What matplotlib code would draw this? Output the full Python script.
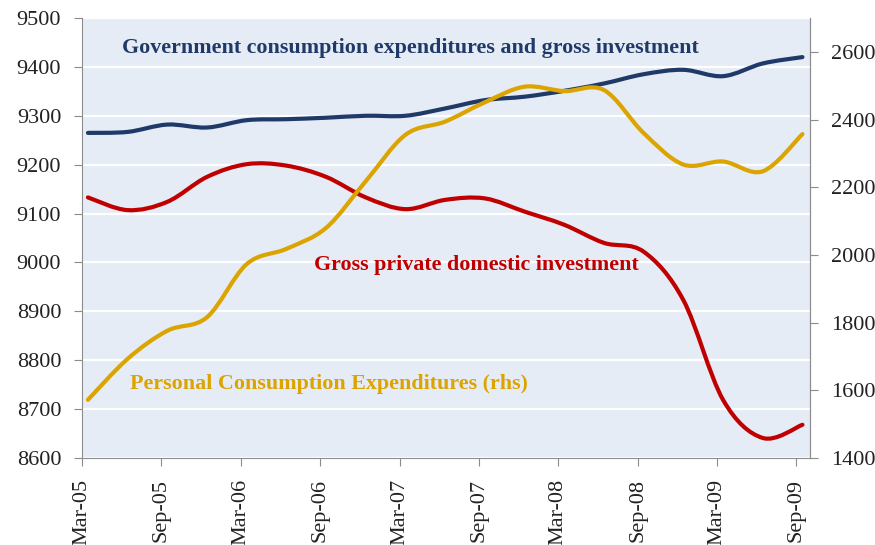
import numpy as np
import matplotlib
matplotlib.use("Agg")
import matplotlib.pyplot as plt
from matplotlib.path import Path
from matplotlib.patches import PathPatch

# quarterly data, Mar-05 .. Sep-09
quarters = ["Mar-05", "Jun-05", "Sep-05", "Dec-05", "Mar-06", "Jun-06", "Sep-06",
            "Dec-06", "Mar-07", "Jun-07", "Sep-07", "Dec-07", "Mar-08", "Jun-08",
            "Sep-08", "Dec-08", "Mar-09", "Jun-09", "Sep-09"]
government = [9265, 9267, 9282, 9276, 9291, 9293, 9296, 9300, 9300, 9315,
              9332, 9339, 9351, 9366, 9385, 9394, 9381, 9407, 9420]
private_inv = [9133, 9107, 9124, 9175, 9201, 9198, 9175, 9133, 9109, 9128,
               9131, 9104, 9077, 9040, 9022, 8923, 8719, 8641, 8668]
consumption = [1572, 1693, 1776, 1816, 1973, 2018, 2080, 2218, 2355, 2394,
               2451, 2497, 2484, 2487, 2360, 2267, 2276, 2247, 2357]
tick_labels = quarters[::2]

NAVY = "#1F3A68"
RED = "#C00000"
GOLD = "#DCA400"
BG = "#E6ECF5"
GREY = "#8C8C8C"

plt.rcParams["font.family"] = ["Liberation Serif", "DejaVu Serif"]


def smooth_line(ax, xs, ys, color, lw=3.0):
    # Excel-like smoothed line: cubic bezier through every point
    pts = np.column_stack([xs, ys]).astype(float)
    n = len(pts)
    verts = [pts[0]]
    codes = [Path.MOVETO]
    for i in range(n - 1):
        p0 = pts[i - 1] if i > 0 else pts[i]
        p1 = pts[i]
        p2 = pts[i + 1]
        p3 = pts[i + 2] if i + 2 < n else pts[i + 1]
        c1 = p1 + (p2 - p0) / 6.0
        c2 = p2 - (p3 - p1) / 6.0
        verts += [c1, c2, p2]
        codes += [Path.CURVE4] * 3
    patch = PathPatch(Path(verts, codes), facecolor="none", edgecolor=color,
                      lw=lw, capstyle="round", joinstyle="round", zorder=3)
    ax.add_patch(patch)


fig = plt.figure(figsize=(8.75, 5.45), dpi=100)
ax = fig.add_axes([0.0937, 0.1596, 0.832, 0.8074])
ax2 = ax.twinx()

x = np.arange(len(quarters)) + 0.15

ax.set_facecolor(BG)
ax.set_xlim(0, 18.34)
ax.set_ylim(8600, 9500)
ax.set_yticks(np.arange(8600, 9501, 100))
ax.grid(axis="y", color="white", lw=1.6)
ax.set_axisbelow(True)

smooth_line(ax, x, government, NAVY)
smooth_line(ax, x, private_inv, RED)

ax2.set_ylim(1400, 2700)
ax2.set_yticks(np.arange(1400, 2601, 200))
smooth_line(ax2, x, consumption, GOLD)

ax.set_xticks(np.arange(0, 19, 2))
ax.set_xticklabels(tick_labels, rotation=90)

for a in (ax, ax2):
    a.spines["top"].set_visible(False)
    for s in ("left", "right", "bottom"):
        a.spines[s].set_color(GREY)
    a.tick_params(colors=GREY, labelcolor="#222222", labelsize=16,
                  length=6, direction="out", pad=9)
ax.tick_params(axis="x", pad=9)
ax2.spines["left"].set_visible(False)
ax2.spines["bottom"].set_visible(False)

tfont = dict(fontsize=15.8, fontweight="bold", transform=ax.transData)
ax.text(1.0, 9439, "Government consumption expenditures and gross investment",
        color=NAVY, va="center", ha="left", **tfont)
ax.text(5.85, 8995, "Gross private domestic investment",
        color=RED, va="center", ha="left", **tfont)
ax.text(1.2, 8752, "Personal Consumption Expenditures (rhs)",
        color=GOLD, va="center", ha="left", **tfont)

fig.savefig("out.png", dpi=100)
